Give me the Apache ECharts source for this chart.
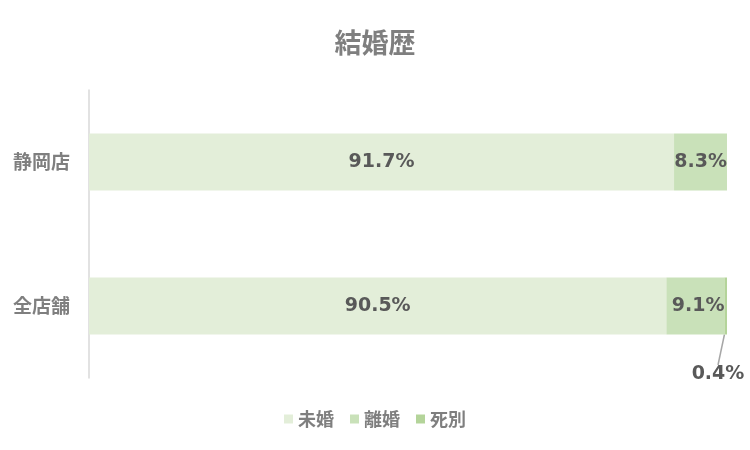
<!DOCTYPE html>
<html><head><meta charset="utf-8">
<script src="https://cdn.jsdelivr.net/npm/echarts@6/dist/echarts.min.js"></script>
<style>html,body{margin:0;padding:0;background:#fff}#c{width:750px;height:450px}</style>
</head><body><div id="c"></div>
<script>
const categories = ['静岡店', '全店舗'];
const seriesNames = ['未婚', '離婚', '死別'];
const unmarried = [91.7, 90.5];
const divorced = [8.3, 9.1];
const widowed = [0, 0.4];

const colors = ['#e3eed9', '#c9e1b9', '#b4d49a'];
const font = '"Noto Sans CJK JP", "Noto Sans", sans-serif';
const numFont = '"DejaVu Sans", "Noto Sans CJK JP", sans-serif';
const chart = echarts.init(document.getElementById('c'));
const valueSets = [unmarried, divorced, widowed];
const series = seriesNames.map((name, i) => ({
  name, type: 'bar', stack: 'total', barWidth: 57,
  data: valueSets[i].map(v => (v > 0 ? { value: v } : { value: v, label: { show: false }, labelLine: { show: false } })),
  itemStyle: { color: colors[i] },
  label: {
    show: true,
    position: i === 0 ? 'inside' : (i === 1 ? 'insideRight' : 'right'),
    distance: 0,
    color: '#595959', fontSize: 19, fontWeight: 'bold', fontFamily: numFont,
    formatter: p => p.value > 0 ? p.value.toFixed(1) + '%' : ''
  },
  labelLine: i === 2 ? { show: true, lineStyle: { color: '#a6a6a6', width: 1.5 } } : undefined,
  labelLayout: i === 2 ? (p => ({ x: p.rect.x + p.rect.width - 9, y: p.rect.y + p.rect.height + 40, align: 'center', verticalAlign: 'middle' })) : undefined
}));
chart.setOption({
  animation: false,
  title: { text: '結婚歴', left: 'center', top: 24, textStyle: { fontSize: 27, fontWeight: 'bold', color: '#7f7f7f', fontFamily: font } },
  legend: {
    bottom: 17, left: 'center', itemWidth: 9, itemHeight: 9, itemGap: 16, icon: 'rect',
    textStyle: { fontSize: 18, fontWeight: 'bold', color: '#7f7f7f', fontFamily: font },
    data: seriesNames
  },
  grid: { left: 89, right: 23, top: 90, bottom: 72 },
  xAxis: { type: 'value', min: 0, max: 100, show: false },
  yAxis: {
    type: 'category', data: categories, inverse: true,
    axisLine: { lineStyle: { color: '#d9d9d9', width: 1.5 } },
    axisTick: { show: false },
    axisLabel: { fontSize: 19, fontWeight: 'bold', color: '#7f7f7f', fontFamily: font, margin: 19 }
  },
  series
});
</script></body></html>
